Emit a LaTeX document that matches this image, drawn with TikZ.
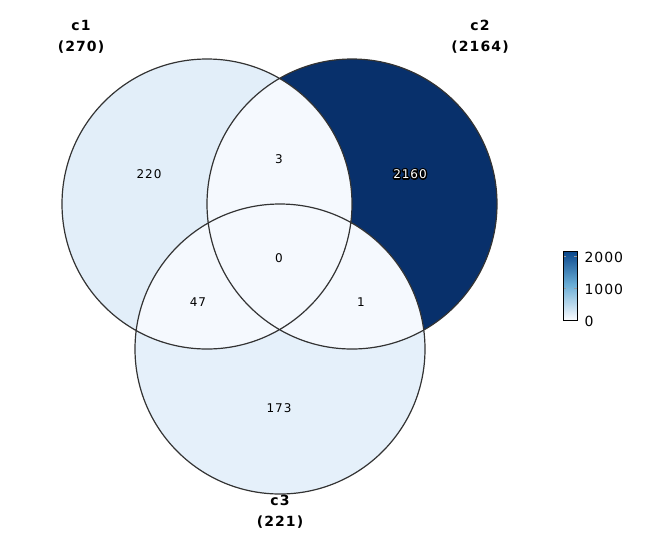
\documentclass[tikz,border=0pt]{standalone}
\usepackage{fontspec}
\setmainfont{DejaVu Sans}
\newfontfamily\numfont[LetterSpace=8]{DejaVu Sans}
\newfontfamily\labfont[LetterSpace=8]{DejaVu Sans}
\newfontfamily\legfont[LetterSpace=7]{DejaVu Sans}
\definecolor{cA}{HTML}{E2EEF9}
\definecolor{cB}{HTML}{08306B}
\definecolor{cC}{HTML}{E5F0FA}
\definecolor{cL}{HTML}{F5F9FE}
\definecolor{gMid}{HTML}{6BAED6}
\definecolor{gTop}{HTML}{08458A}
\definecolor{edge}{HTML}{333333}
\newcommand\outlinetext[1]{\special{pdf:literal direct q 1 Tr 3 w 1 j 0 G}\rlap{#1}\special{pdf:literal direct Q}#1}
\begin{document}
\begin{tikzpicture}[x=1pt,y=-1pt,
  num/.style={font=\numfont\fontsize{12}{14}\selectfont},
  setlab/.style={font=\labfont\bfseries\fontsize{14}{21}\selectfont,align=center},
  leg/.style={font=\legfont\fontsize{14}{15}\selectfont,anchor=west}]
\useasboundingbox (0,0) rectangle (650,550);
\coordinate (p1) at (207,204);
\coordinate (p2) at (352,204);
\coordinate (p3) at (280,349);
\def\R{145}
\fill[cA] (p1) circle (\R);
\fill[cB] (p2) circle (\R);
\fill[cC] (p3) circle (\R);
\begin{scope}\clip (p1) circle (\R); \fill[cL] (p2) circle (\R); \fill[cL] (p3) circle (\R);\end{scope}
\begin{scope}\clip (p2) circle (\R); \fill[cL] (p3) circle (\R);\end{scope}
\draw[edge,line width=1.2pt] (p1) circle (\R) (p2) circle (\R) (p3) circle (\R);
\node[num] (n220) at (149,174) {220};
\node[num] (n3) at (279,159) {3};
\node[num,white] (n2160) at (410,174) {\outlinetext{2160}};
\node[num] (n0) at (279,258) {0};
\node[num] (n47) at (198,302) {47};
\node[num] (n1) at (361,302) {1};
\node[num] (n173) at (279,408) {173};
\node[setlab] (l1) at (81,37) {c1\\(270)};
\node[setlab] (l2) at (480,37) {c2\\(2164)};
\node[setlab] (l3) at (280,512) {c3\\(221)};
% legend
\foreach \i in {0,...,68}{
  \pgfmathsetmacro\t{\i/68}
  \ifdim\t pt<0.5pt
    \pgfmathsetmacro\p{int(200*\t)}
    \colorlet{gcol}{gMid!\p!cL}
  \else
    \pgfmathsetmacro\p{int(200*(\t-0.5))}
    \colorlet{gcol}{gTop!\p!gMid}
  \fi
  \fill[gcol] (563,320-\i) rectangle (577,319-\i-0.3);
}
\draw[white!60!black,line width=0.6pt] (563,288) -- (566,288) (574,288) -- (577,288) (563,256) -- (566,256) (574,256) -- (577,256);
\draw[black,line width=0.9pt] (563,320) rectangle (577,251);
\node[leg] (t2000) at (581,257) {2000};
\node[leg] (t1000) at (581,289) {1000};
\node[leg] (t0) at (581,321) {0};
\end{tikzpicture}
\end{document}
